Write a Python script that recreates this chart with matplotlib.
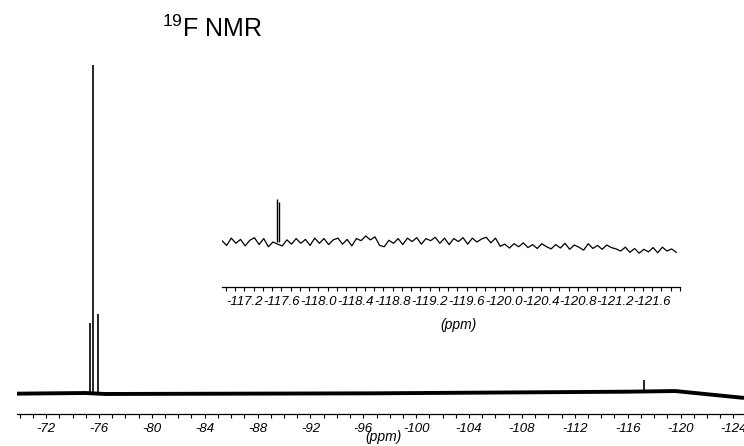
import numpy as np
import matplotlib
matplotlib.use("Agg")
import matplotlib.pyplot as plt
from matplotlib.ticker import MultipleLocator, FormatStrFormatter

plt.rcParams["font.family"] = ["Liberation Sans", "DejaVu Sans"]
plt.rcParams["font.style"] = "italic"
plt.rcParams["axes.unicode_minus"] = False

# --- main spectrum (ppm, relative intensity; tallest line = 1) ---------------
main_peak_ppm = [-75.33, -75.58, -75.96, -117.20]
main_peak_int = [0.213, 1.000, 0.241, 0.040]
main_base_ppm = [-69.8, -74.95, -76.47, -96.68, -106.4, -115.98, -119.6, -124.8]
main_base_int = [-0.002, 0.000, -0.003, -0.001, 0.0015, 0.004, 0.006, -0.015]

# --- inset: zoom on the -117 ... -122 ppm region ------------------------------
inset_peak_ppm = [-117.55, -117.58]
inset_peak_int = [1.00, 0.93]
inset_start, inset_step = -116.96, -0.05
inset_trace = [
    0.03, -0.08, 0.09, -0.03, 0.06, -0.09, 0.04, 0.10, -0.06, 0.08, -0.11,
    0.00, -0.05,
    -0.09, 0.05, -0.05, 0.08, -0.03, 0.06, -0.08, 0.09,
    -0.03, 0.08, -0.06, 0.05, 0.09, -0.05, 0.06, -0.09, 0.08, 0.03,
    0.14, 0.05, 0.12, -0.08, -0.11, 0.04,
    -0.03, 0.08, -0.06, 0.09, 0.01, 0.10, -0.05, 0.08, 0.03, 0.11, -0.03, 0.09, -0.06, 0.08,
    0.01, 0.10, -0.05, 0.09, 0.00, 0.07, 0.11, -0.02, 0.09,
    -0.10, -0.05, -0.14, -0.04, -0.11, -0.02, -0.13, -0.06, -0.15, -0.04, -0.11,
    -0.16, -0.06, -0.14, -0.03, -0.17, -0.07, -0.12, -0.19, -0.04, -0.15, -0.08, -0.17,
    -0.07, -0.13, -0.16,
    -0.21, -0.12, -0.24, -0.15, -0.26, -0.17, -0.23, -0.13, -0.25, -0.12, -0.21, -0.16, -0.24,
]
inset_ticks = [-117.2, -117.6, -118.0, -118.4, -118.8, -119.2,
               -119.6, -120.0, -120.4, -120.8, -121.2, -121.6]

W, H = 744, 446
fig = plt.figure(figsize=(W / 100, H / 100), dpi=100)


def px_axes(left, top, right, bottom):
    return fig.add_axes([left / W, 1 - bottom / H, (right - left) / W, (bottom - top) / H])


def style(ax):
    for s in ("top", "left", "right"):
        ax.spines[s].set_visible(False)
    ax.spines["bottom"].set_linewidth(0.9)
    ax.set_yticks([])
    ax.patch.set_visible(False)
    ax.tick_params(axis="x", which="both", direction="out", length=3, width=0.8,
                   pad=3.5, labelsize=9.5)


# main axes: axis line at y=414 px, spectrum baseline at 393 px, top of peak at 65 px
ax = px_axes(17, 60, 744, 414)
ax.plot(main_base_ppm, main_base_int, color="black", lw=2.8, solid_capstyle="butt")
ax.vlines(main_peak_ppm, 0, main_peak_int, color="black", lw=1.2)
ax.set_xlim(-69.8, -124.8)
ax.set_ylim(-21 / 328, 333 / 328)
ax.xaxis.set_major_locator(MultipleLocator(4))
ax.xaxis.set_minor_locator(MultipleLocator(1))
ax.xaxis.set_major_formatter(FormatStrFormatter("%d"))
style(ax)
ax.set_xlabel("(ppm)", fontsize=10, va="center")
ax.xaxis.set_label_coords(0.5 + 3 / 727, -23 / 354)

# inset axes
inset_ppm = inset_start + inset_step * np.arange(len(inset_trace))
ax2 = px_axes(222, 190, 680, 287)
ax2.plot(inset_ppm, inset_trace, color="black", lw=0.9)
ax2.vlines(inset_peak_ppm, 0, inset_peak_int, color="black", lw=1.0)
ax2.set_xlim(-116.96, -121.9)
ax2.set_ylim(-45 / 43, 52 / 43)
ax2.set_xticks(inset_ticks)
ax2.xaxis.set_minor_locator(MultipleLocator(0.1))
ax2.xaxis.set_major_formatter(FormatStrFormatter("%.1f"))
style(ax2)
ax2.set_xlabel("(ppm)", fontsize=10, va="center")
ax2.xaxis.set_label_coords((458 - 222) / 458, -38 / 97)

fig.text(262 / W, 1 - 37 / H, r"$\mathregular{^{19}}$F NMR", fontsize=18,
         fontstyle="normal", ha="right", va="baseline")

fig.savefig("out.png", dpi=100)
